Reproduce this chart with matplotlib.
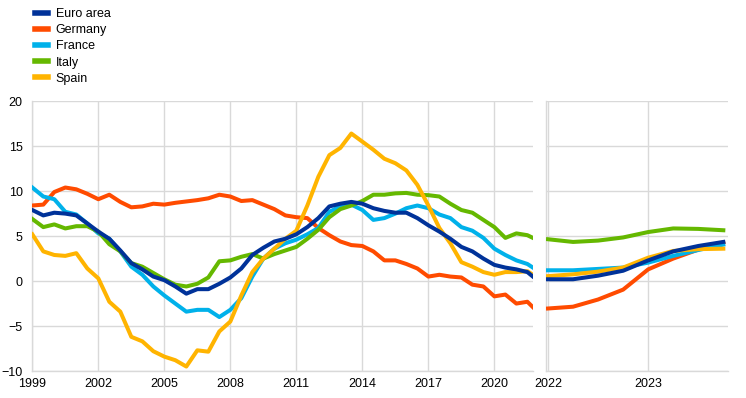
"""Residential property prices: euro area and largest countries, history and projections."""

import numpy as np
import matplotlib
matplotlib.use('Agg')
import matplotlib.pyplot as plt
from matplotlib.lines import Line2D

plt.rcParams['font.family'] = ['Liberation Sans', 'DejaVu Sans']
plt.rcParams['font.size'] = 9

series_names = ["Euro area", "Germany", "France", "Italy", "Spain"]
series_colors = ["#003299", "#FF4B00", "#00B1EA", "#65B800", "#FFB400"]

# history, half-yearly 1999.0 .. 2021.5 plus the last quarter
hist_dates = list(np.arange(1999.0, 2021.51, 0.5)) + [2021.75]
euro_area = [7.9, 7.3, 7.6, 7.5, 7.3, 6.4, 5.5, 4.7, 3.4, 2.0, 1.3, 0.5,
             0.1, -0.6, -1.4, -0.9, -0.9, -0.3, 0.4, 1.4, 2.9, 3.7, 4.4, 4.7,
             5.2, 6.0, 7.0, 8.3, 8.6, 8.8, 8.6, 8.1, 7.8, 7.6, 7.6,
             7.0, 6.2, 5.5, 4.7, 3.8, 3.3, 2.5, 1.8, 1.5, 1.3, 1.0,
             0.5]
germany = [8.4, 8.5, 9.9, 10.4, 10.2, 9.7, 9.1, 9.6, 8.8, 8.2, 8.3, 8.6,
           8.5, 8.7, 8.85, 9.0, 9.2, 9.6, 9.4, 8.9, 9.0, 8.5, 8.0, 7.3,
           7.1, 7.0, 5.9, 5.1, 4.4, 4.0, 3.9, 3.3, 2.3, 2.3, 1.9,
           1.4, 0.5, 0.7, 0.5, 0.4, -0.4, -0.6, -1.7, -1.5, -2.5, -2.3,
           -2.9]
france = [10.4, 9.4, 9.1, 7.7, 7.4, 6.4, 5.3, 4.7, 3.3, 1.6, 0.7, -0.6,
          -1.6, -2.5, -3.4, -3.2, -3.2, -4.0, -3.2, -1.9, 0.5, 2.5, 3.6, 4.2,
          4.6, 5.2, 5.9, 7.7, 8.3, 8.5, 7.9, 6.8, 7.0, 7.5, 8.1,
          8.4, 8.1, 7.4, 7.0, 6.0, 5.6, 4.8, 3.6, 2.9, 2.3, 1.9,
          1.5]
italy = [6.9, 6.0, 6.3, 5.85, 6.1, 6.1, 5.5, 4.1, 3.3, 2.0, 1.6, 0.9,
         0.2, -0.4, -0.6, -0.3, 0.4, 2.2, 2.3, 2.7, 3.0, 2.5, 3.0, 3.4,
         3.8, 4.7, 5.7, 7.1, 8.0, 8.4, 8.9, 9.6, 9.6, 9.75, 9.8,
         9.6, 9.55, 9.4, 8.6, 7.9, 7.6, 6.8, 6.0, 4.8, 5.3, 5.1,
         4.8]
spain = [5.2, 3.3, 2.9, 2.8, 3.1, 1.4, 0.3, -2.3, -3.4, -6.2, -6.7, -7.8,
         -8.4, -8.8, -9.5, -7.7, -7.85, -5.6, -4.5, -1.6, 1.0, 2.5, 3.6, 4.7,
         5.6, 8.4, 11.6, 14.0, 14.8, 16.4, 15.5, 14.6, 13.6, 13.1, 12.3,
         10.7, 8.4, 5.9, 4.2, 2.1, 1.6, 1.0, 0.7, 1.0, 1.0, 1.1,
         0.7]

# projections, quarterly 2022Q1 .. 2023Q4
proj_dates = [2022.0, 2022.25, 2022.5, 2022.75, 2023.0, 2023.25, 2023.5, 2023.75]
euro_area_proj = [0.2, 0.2, 0.6, 1.15, 2.3, 3.3, 3.9, 4.35]
germany_proj = [-3.05, -2.85, -2.05, -0.95, 1.3, 2.5, 3.5, 4.3]
france_proj = [1.2, 1.2, 1.35, 1.5, 2.05, 2.8, 3.45, 4.05]
italy_proj = [4.65, 4.35, 4.5, 4.85, 5.45, 5.85, 5.8, 5.65]
spain_proj = [0.55, 0.75, 1.05, 1.5, 2.6, 3.35, 3.55, 3.6]

y_ticks = [-10, -5, 0, 5, 10, 15, 20]
left_xticks = [1999, 2002, 2005, 2008, 2011, 2014, 2017, 2020]
right_xticks = [2022, 2023]

hist = [euro_area, germany, france, italy, spain]
proj = [euro_area_proj, germany_proj, france_proj, italy_proj, spain_proj]

grid_color = '#d9d9d9'

fig = plt.figure(figsize=(7.46, 3.98), dpi=100)
ax_l = fig.add_axes([0.0433, 0.0678, 0.6716, 0.678])
ax_r = fig.add_axes([0.7319, 0.0678, 0.2444, 0.678])

# draw Euro area last so it sits on top like in the original
order = [1, 2, 3, 4, 0]
for i in order:
    ax_l.plot(hist_dates, hist[i], color=series_colors[i], lw=2.9,
              solid_joinstyle='round', zorder=3)
    ax_r.plot(proj_dates, proj[i], color=series_colors[i], lw=2.9,
              solid_joinstyle='round', zorder=3)

ax_l.set_xlim(1999, 2021.77)
ax_r.set_xlim(2021.98, 2023.8)
for ax in (ax_l, ax_r):
    ax.set_ylim(-10, 20)
    ax.set_yticks(y_ticks)
    ax.grid(True, color=grid_color, lw=1.0, zorder=0)
    for side in ('top', 'right'):
        ax.spines[side].set_visible(False)
    for side in ('left', 'bottom'):
        ax.spines[side].set_color(grid_color)
        ax.spines[side].set_linewidth(1.0)
    ax.tick_params(length=0, labelsize=9, colors='black')
    ax.tick_params(axis='x', pad=5)
    ax.tick_params(axis='y', pad=7)

ax_l.set_xticks(left_xticks)
ax_l.set_xticklabels([str(t) for t in left_xticks])
ax_r.set_xticks(right_xticks)
ax_r.set_xticklabels([str(t) for t in right_xticks])
ax_r.set_yticklabels([])

handles = [Line2D([], [], color=c, lw=4) for c in series_colors]
fig.legend(handles, series_names, loc='upper left',
           bbox_to_anchor=(0.038, 0.995), frameon=False, borderpad=0,
           handlelength=1.05, handletextpad=0.65, labelspacing=0.33,
           fontsize=9)

fig.savefig('out.png', dpi=100)
plt.close(fig)
